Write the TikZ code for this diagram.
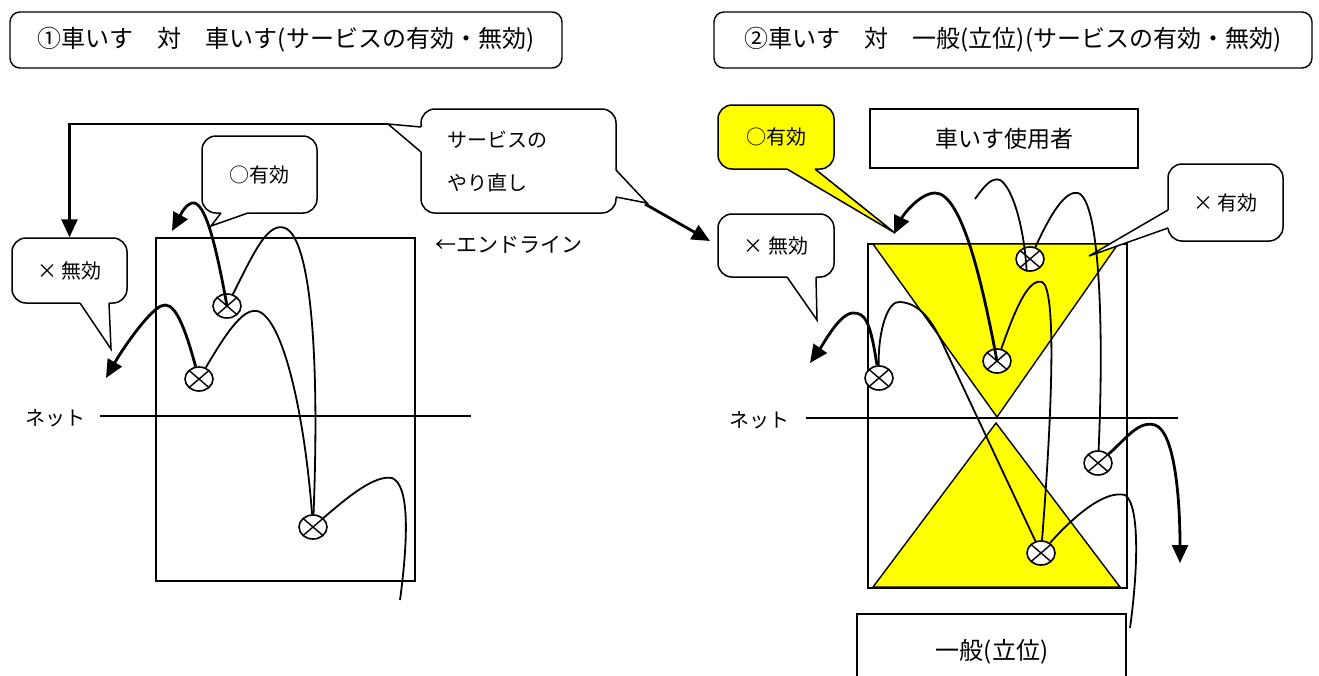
\documentclass[tikz,border=0pt]{standalone}
\usepackage{fontspec}
\setmainfont{Noto Sans CJK JP}
\usetikzlibrary{arrows.meta,shapes.geometric,calc}
\definecolor{zoneyellow}{RGB}{255,255,0}
\newcommand{\mytail}[5]{%
  \fill[#1] ($#2+#5$) -- #2 -- #3 -- #4 -- ($#4+#5$) -- cycle;
  \draw[line width=1.5pt, line join=miter] #2 -- #3 -- #4;}
\begin{document}
\begin{tikzpicture}[x=1pt,y=-1pt,
  box/.style={draw, line width=1.5pt, inner sep=0pt, align=center},
  titlebox/.style={box, line width=1.4pt, rounded corners=10pt, font=\fontsize{24}{28}\selectfont},
  callout/.style={box, fill=white, rounded corners=14pt, font=\fontsize{20}{24}\selectfont},
  plainbox/.style={box, fill=white, font=\fontsize{23}{27}\selectfont},
  lbl/.style={font=\fontsize{21}{25}\selectfont, inner sep=0pt},
  court/.style={draw, line width=2.5pt},
  netline/.style={line width=1.6pt},
  zone/.style={fill=zoneyellow, draw, line width=1.4pt, line join=miter},
  ball/.style={ellipse, draw, fill=white, line width=1.6pt, minimum width=28pt, minimum height=24pt, inner sep=0pt,
    path picture={\draw[line width=1.4pt] (path picture bounding box.north west) -- (path picture bounding box.south east)
      (path picture bounding box.north east) -- (path picture bounding box.south west);}},
  trajthin/.style={line width=1.8pt},
  trajarrow/.style={line width=2.8pt, -{Triangle[length=18pt,width=16pt]}},
]
\useasboundingbox (0,0) rectangle (1319,675);
\clip (0,0) rectangle (1319,675);

% ---------- titles ----------
\node[titlebox, minimum width=552, minimum height=56] (t1) at (286,40) {①車いす　対　車いす(サービスの有効・無効)};
\node[titlebox, minimum width=598, minimum height=56] (t2) at (1013,40) {②車いす　対　一般(立位)(サービスの有効・無効)};

% ---------- left panel ----------
\draw[court] (156,238) rectangle (415,581);
\draw[netline] (100,416) -- (471,416);
\node[lbl, font=\fontsize{20}{24}\selectfont] (netL) at (55,418) {ネット};
\node[lbl, anchor=west] (endl) at (435,245) {←エンドライン};

\node[callout, minimum width=115, minimum height=77] (L1) at (259.5,174.5) {○有効};
\mytail{white}{(221,213)}{(211,226)}{(248,213)}{(0,-2)}
\node[callout, minimum width=115, minimum height=65] (L2) at (69.5,270.5) {× 無効};
\mytail{white}{(80,303)}{(111,349)}{(109,303)}{(0,-2)}
\node[callout, minimum width=195, minimum height=104] (L3) at (518.5,161) {};
\node[lbl, font=\fontsize{20}{43}\selectfont, align=left, anchor=north west] (L3t) at (447,131) {サービスの\\やり直し};
\mytail{white}{(421,127)}{(388,124)}{(421,152)}{(2,0)}
\mytail{white}{(616,170)}{(647,203)}{(616,197)}{(-2,0)}
\coordinate (L3tipL) at (388,124);
\coordinate (L3tipR) at (645,204);

% ---------- right panel ----------
\draw[court] (868,244) rectangle (1127,588);
\draw[zone] (873,244) -- (1118,244) -- (997,417) -- cycle;
\draw[zone] (996,423) -- (1120,587) -- (873,587) -- cycle;
\draw[netline] (806,418) -- (1178,418);
\node[lbl, font=\fontsize{20}{24}\selectfont] (netR) at (759,420) {ネット};

\node[plainbox, minimum width=268, minimum height=59] (wc) at (1004,138.5) {車いす使用者};
\draw[line width=1.5pt] (857,680) -- (857,614) -- (1126,614) -- (1126,680);
\node[lbl, font=\fontsize{24}{28}\selectfont] (gen) at (992,652) {一般(立位)};

\node[callout, fill=zoneyellow, minimum width=116, minimum height=64] (R1) at (776,137) {○有効};
\mytail{zoneyellow}{(787,169)}{(895,233)}{(815,169)}{(0,-2)}
\node[callout, minimum width=116, minimum height=63] (R2) at (776,245.5) {× 無効};
\mytail{white}{(787,277)}{(817,320)}{(816,277)}{(0,-2)}
\node[callout, minimum width=115, minimum height=77] (R3) at (1225.5,202.5) {× 有効};
\mytail{white}{(1168,210)}{(1089,256)}{(1168,228)}{(2,0)}

% ---------- balls ----------
\node[ball] (bA) at (227,306) {};
\node[ball] (bB) at (199,379) {};
\node[ball] (bC) at (313,527) {};
\node[ball] (b1) at (1030,259) {};
\node[ball] (b2) at (997,361) {};
\node[ball] (b3) at (879,378) {};
\node[ball] (b4) at (1098,463) {};
\node[ball] (b5) at (1041,553) {};

% ---------- free ends ----------
\coordinate (eA) at (172,231);
\coordinate (eB) at (106,378);
\coordinate (eC) at (400,600);
\coordinate (R2arr) at (710,241);
\coordinate (e2) at (894,234);
\coordinate (s1) at (975,199);
\coordinate (e4) at (1180,563);
\coordinate (e3) at (810,363);
\coordinate (e5) at (1130,628);

% ---------- connectors ----------
\draw[trajarrow] (L3tipL) -| (L2.north);
\draw[trajarrow] (L3tipR) -- (R2arr);

% left trajectories
\draw[trajarrow] (bA.center) .. controls (216,245) and (205,200) .. (192,203) .. controls (184,205) and (178,220) .. (eA);
\draw[trajthin] (bA) .. controls (255,250) and (268,222) .. (285,228) .. controls (310,238) and (320,350) .. (bC);
\draw[trajarrow] (bB) .. controls (183,320) and (173,300) .. (161,306) .. controls (147,313) and (122,350) .. (eB);
\draw[trajthin] (bB) .. controls (228,330) and (245,305) .. (260,312) .. controls (285,325) and (305,420) .. (bC);
\draw[trajthin] (bC) .. controls (350,495) and (375,475) .. (392,478) .. controls (410,485) and (408,540) .. (eC);

% right trajectories
\draw[trajarrow] (b2.center) .. controls (980,270) and (960,193) .. (935,193) .. controls (920,193) and (903,215) .. (e2);
\draw[trajthin] (b2) .. controls (1015,310) and (1028,278) .. (1042,282) .. controls (1056,288) and (1053,400) .. (b5);
\draw[trajthin] (s1) .. controls (985,185) and (992,177) .. (1000,180) .. controls (1012,187) and (1024,225) .. (b1.255);
\draw[trajthin] (b1) .. controls (1050,215) and (1065,190) .. (1078,193) .. controls (1100,200) and (1104,330) .. (b4);
\draw[trajarrow] (b4) .. controls (1125,440) and (1138,420) .. (1155,425) .. controls (1175,432) and (1180,500) .. (e4);
\draw[trajarrow] (b3) .. controls (870,320) and (865,313) .. (853,313) .. controls (840,313) and (824,343) .. (e3);
\draw[trajthin] (b3) .. controls (878,330) and (888,300) .. (900,302) .. controls (918,303) and (930,318) .. (940,338) -- (b5);
\draw[trajthin] (b5) .. controls (1075,515) and (1105,490) .. (1125,495) .. controls (1140,505) and (1138,570) .. (e5);
\end{tikzpicture}
\end{document}
